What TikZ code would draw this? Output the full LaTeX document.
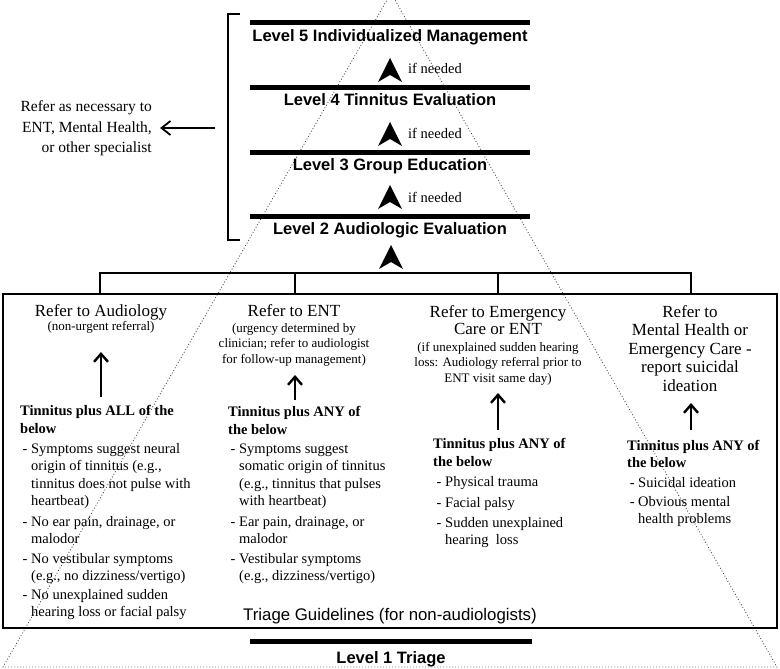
\documentclass[tikz,border=0pt]{standalone}
\usepackage{fontspec}
\setmainfont{Liberation Serif}
\setsansfont{Liberation Sans}
\usetikzlibrary{arrows.meta}
\begin{document}
\begin{tikzpicture}[x=1pt,y=-1pt,
  lvl/.style={font=\sffamily\bfseries\fontsize{16.5}{19}\selectfont, inner sep=0pt, anchor=base},
  bar/.style={line width=5pt},
  ifn/.style={font=\fontsize{14.5}{17}\selectfont, inner sep=0pt, anchor=base west},
  head/.style={font=\fontsize{17}{18.5}\selectfont, align=center, inner sep=0pt, anchor=base},
  subh/.style={font=\fontsize{13}{15.5}\selectfont, align=center, inner sep=0pt, anchor=base},
  bhead/.style={font=\bfseries\fontsize{14.5}{18}\selectfont, align=left, inner sep=0pt, anchor=base west},
  item/.style={font=\fontsize{14.5}{17.3}\selectfont, align=left, inner sep=0pt, anchor=base west},
  colarrow/.style={line width=2.4pt, -{Straight Barb[length=8pt,width=14pt]}},
  pyr/.style={black!75, line width=0.8pt, dash pattern=on 0.9pt off 2.1pt},
  tree/.style={line width=1.5pt},
  chev/.pic={\fill (0,0) -- (12,24) -- (0,17) -- (-12,24) -- cycle;}
]
\useasboundingbox (0,0) rectangle (780,669);

% pyramid (dotted)
\coordinate (apex) at (391,-7);
\coordinate (bl) at (3,667);
\coordinate (br) at (777,667);
\draw[pyr] (apex) -- (bl) -- (br) -- cycle;

% levels
\draw[bar] (250,23) -- (530,23);
\node[lvl] (l5) at (390,42) {Level 5 Individualized Management};
\pic at (390,58) {chev};
\node[ifn] (if1) at (408,74) {if needed};
\draw[bar] (250,87.5) -- (530,87.5);
\node[lvl] (l4) at (390,106) {Level 4 Tinnitus Evaluation};
\pic at (390,122) {chev};
\node[ifn] (if2) at (408,139) {if needed};
\draw[bar] (250,152) -- (530,152);
\node[lvl] (l3) at (390,170) {Level 3 Group Education};
\pic at (390,185) {chev};
\node[ifn] (if3) at (408,202) {if needed};
\draw[bar] (250,216) -- (530,216);
\node[lvl] (l2) at (390,234) {Level 2 Audiologic Evaluation};
\pic at (391,245) {chev};

% bracket and side referral
\draw[line width=1.4pt] (240,14) -- (228,14) -- (228,240) -- (240,240);
\node[font=\fontsize{15.5}{20.5}\selectfont, align=right, inner sep=0pt, anchor=base east] (side) at (152,153)
  {Refer as necessary to\\ENT, Mental Health,\\or other specialist};
\coordinate (sideS) at (215,128);
\coordinate (sideE) at (160,128);
\draw[line width=1.8pt, -{Straight Barb[length=9pt,width=14pt]}] (sideS) -- (sideE);

% tree
\coordinate (t1) at (100,273);
\coordinate (t2) at (295,273);
\coordinate (t3) at (498,273);
\coordinate (t4) at (691,273);
\draw[tree] (100,294) -- (t1) -- (t4) -- (691,294);
\draw[tree] (t2) -- (295,294);
\draw[tree] (t3) -- (498,294);

% main box
\draw[line width=1.5pt] (3,294) rectangle (777,628);

% column 1
\node[head] (h1) at (101,316) {Refer to Audiology};
\node[subh] (s1) at (101,330) {(non-urgent referral)};
\coordinate (a1b) at (101,397);
\coordinate (a1t) at (101,352);
\draw[colarrow] (a1b) -- (a1t);
\node[bhead] (b1) at (20,433) {Tinnitus plus ALL of the\\below};
\node[item] (i11) at (31,505.4) {\llap{- }Symptoms suggest neural\\origin of tinnitus (e.g.,\\tinnitus does not pulse with\\heartbeat)};
\node[item] (i12) at (31,543.8) {\llap{- }No ear pain, drainage, or\\malodor};
\node[item] (i13) at (31,580.8) {\llap{- }No vestibular symptoms\\(e.g., no dizziness/vertigo)};
\node[item] (i14) at (31,616.8) {\llap{- }No unexplained sudden\\hearing loss or facial palsy};

% column 2
\node[head] (h2) at (294,316) {Refer to ENT};
\node[subh] (s2) at (294,363) {(urgency determined by\\clinician; refer to audiologist\\for follow-up management)};
\coordinate (a2b) at (295,400);
\coordinate (a2t) at (295,375);
\draw[colarrow] (a2b) -- (a2t);
\node[bhead] (b2) at (228,434) {Tinnitus plus ANY of\\the below};
\node[item] (i21) at (239,505.4) {\llap{- }Symptoms suggest\\somatic origin of tinnitus\\(e.g., tinnitus that pulses\\with heartbeat)};
\node[item] (i22) at (239,543.8) {\llap{- }Ear pain, drainage, or\\malodor};
\node[item] (i23) at (239,580.8) {\llap{- }Vestibular symptoms\\(e.g., dizziness/vertigo)};

% column 3
\node[head, font=\fontsize{17}{17.5}\selectfont] (h3) at (498,334.5) {Refer to Emergency\\Care or ENT};
\node[subh] (s3) at (498,382) {(if unexplained sudden hearing\\loss: Audiology referral prior to\\ENT visit same day)};
\coordinate (a3b) at (498,430);
\coordinate (a3t) at (498,393);
\draw[colarrow] (a3b) -- (a3t);
\node[bhead] (b3) at (433,466) {Tinnitus plus ANY of\\the below};
\node[item] (i31) at (445,486.5) {\llap{- }Physical trauma};
\node[item] (i32) at (445,507.5) {\llap{- }Facial palsy};
\node[item, font=\fontsize{14.5}{16.5}\selectfont] (i33) at (445,544) {\llap{- }Sudden unexplained\\hearing\ \ loss};

% column 4
\node[head] (h4) at (690,391) {Refer to\\Mental Health or\\Emergency Care -\\report suicidal\\ideation};
\coordinate (a4b) at (691,430);
\coordinate (a4t) at (691,403);
\draw[colarrow] (a4b) -- (a4t);
\node[bhead, font=\bfseries\fontsize{14.5}{17}\selectfont] (b4) at (627,467) {Tinnitus plus ANY of\\the below};
\node[item] (i41) at (638,487.5) {\llap{- }Suicidal ideation};
\node[item, font=\fontsize{14.5}{17}\selectfont] (i42) at (638,523.5) {\llap{- }Obvious mental\\health problems};

% box caption and level 1
\node[font=\sffamily\fontsize{16.8}{19}\selectfont, inner sep=0pt, anchor=base] (tg) at (390,620) {Triage Guidelines (for non-audiologists)};
\draw[bar] (250,641) -- (532,641);
\node[lvl] (l1) at (391,663) {Level 1 Triage};
\end{tikzpicture}
\end{document}
